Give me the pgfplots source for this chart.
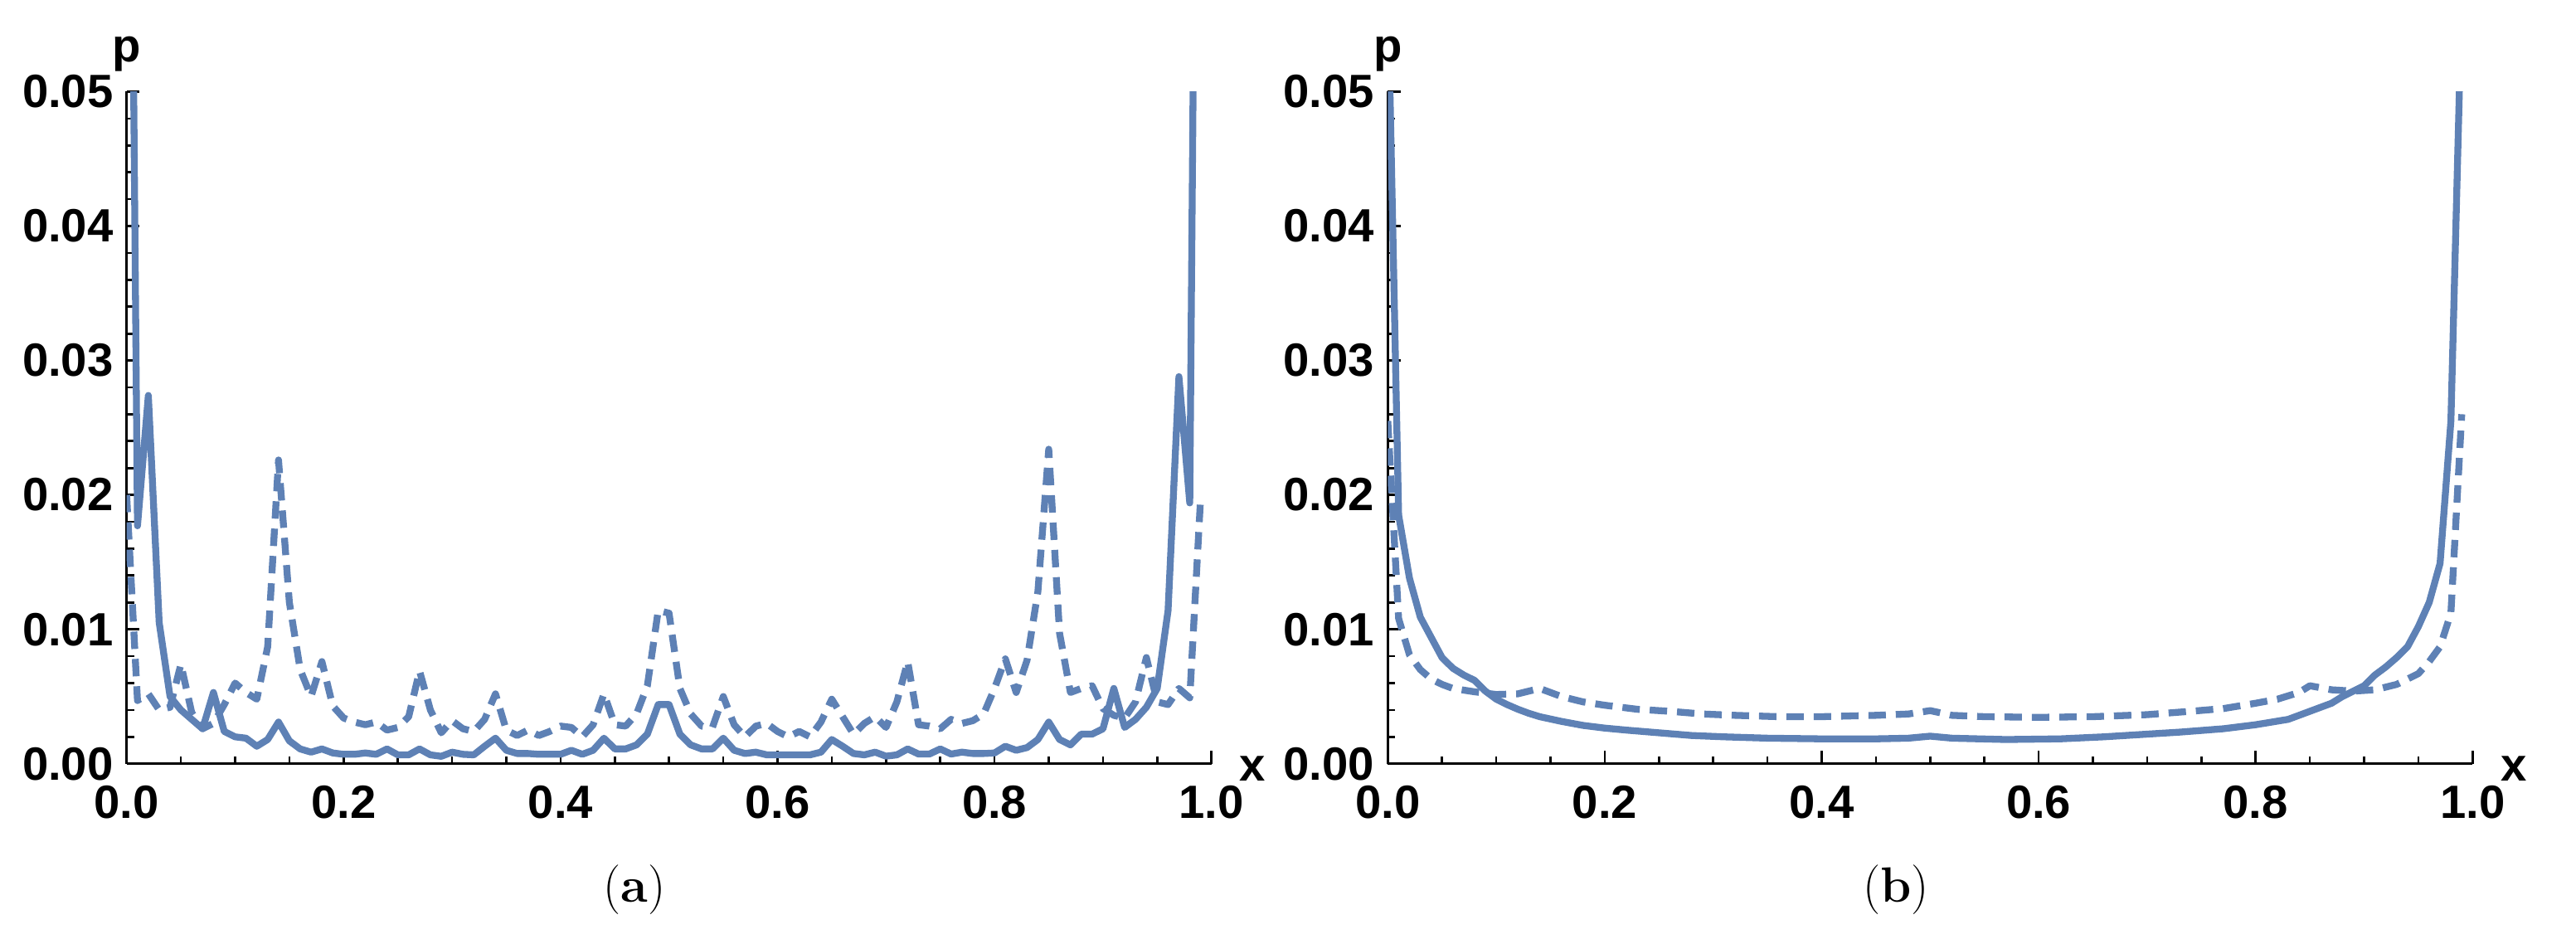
\documentclass[border=0pt]{standalone}
\usepackage{fontspec}
\setsansfont{Liberation Sans}
\usepackage{pgfplots}
\pgfplotsset{compat=1.18}
\definecolor{mma}{RGB}{94,129,181}

\pgfplotsset{
  panel/.style={
    scale only axis, width=13.08cm, height=8.102cm,
    xmin=0, xmax=1, ymin=0, ymax=0.05,
    axis lines*=left,
    axis line style={line width=0.033cm},
    tick align=inside,
    major tick length=0.155cm, minor tick length=0.09cm,
    every tick/.style={black, line width=0.027cm},
    xtick={0,0.2,0.4,0.6,0.8,1},
    ytick={0,0.01,0.02,0.03,0.04,0.05},
    minor x tick num=3, minor y tick num=4,
    scaled y ticks=false,
    /pgf/number format/assume math mode=true,
    tick label style={font=\sffamily\bfseries\fontsize{16}{18}\selectfont, inner sep=0pt},
    xticklabel style={yshift=-0.26cm, /pgf/number format/fixed,
      /pgf/number format/fixed zerofill, /pgf/number format/precision=1},
    yticklabel style={xshift=-0.155cm, /pgf/number format/fixed,
      /pgf/number format/fixed zerofill, /pgf/number format/precision=2},
    clip=true,
  },
  full/.style={mma, line width=0.083cm, line join=round},
  dash/.style={mma, line width=0.083cm, line join=round, dash pattern=on 0.21cm off 0.12cm},
}

\begin{document}
\begin{tikzpicture}
\useasboundingbox (0,0) rectangle (31.06,11.32);

% (a)
\begin{axis}[panel, at={(1.527cm,2.113cm)}, anchor=south west]
\addplot[full] coordinates {
(0.00,0.110)(0.01,0.0177)(0.02,0.0274)(0.03,0.0105)(0.04,0.0050)(0.05,0.0040)(0.06,0.0033)(0.07,0.0026)(0.08,0.0053)(0.09,0.0024)
(0.10,0.0020)(0.11,0.0019)(0.12,0.0013)(0.13,0.0018)(0.14,0.0031)(0.15,0.0017)(0.16,0.0011)(0.17,0.00086)(0.18,0.0011)(0.19,0.0008)
(0.20,0.0007)(0.21,0.0007)(0.22,0.0008)(0.23,0.0007)(0.24,0.0011)(0.25,0.00066)(0.26,0.00066)(0.27,0.0011)(0.28,0.00066)(0.29,0.00055)
(0.30,0.00086)(0.31,0.0007)(0.32,0.00066)(0.33,0.0013)(0.34,0.0019)(0.35,0.0010)(0.36,0.00076)(0.37,0.00076)(0.38,0.0007)(0.39,0.0007)
(0.40,0.0007)(0.41,0.0010)(0.42,0.0007)(0.43,0.0010)(0.44,0.0019)(0.45,0.0011)(0.46,0.0011)(0.47,0.0014)(0.48,0.0022)(0.49,0.0044)
(0.50,0.0044)(0.51,0.0022)(0.52,0.0014)(0.53,0.0011)(0.54,0.0011)(0.55,0.0019)(0.56,0.0010)(0.57,0.00076)(0.58,0.00086)(0.59,0.00066)
(0.60,0.00066)(0.61,0.00066)(0.62,0.00066)(0.63,0.00066)(0.64,0.00086)(0.65,0.0018)(0.66,0.0013)(0.67,0.00076)(0.68,0.00066)(0.69,0.00086)
(0.70,0.00056)(0.71,0.00066)(0.72,0.0011)(0.73,0.00072)(0.74,0.00072)(0.75,0.0011)(0.76,0.00072)(0.77,0.00086)(0.78,0.00076)(0.79,0.00076)
(0.80,0.0008)(0.81,0.0013)(0.82,0.0010)(0.83,0.0012)(0.84,0.0018)(0.85,0.0031)(0.86,0.0018)(0.87,0.0014)(0.88,0.0022)(0.89,0.0022)
(0.90,0.0026)(0.91,0.0056)(0.92,0.0027)(0.93,0.0033)(0.94,0.0042)(0.95,0.0056)(0.96,0.0114)(0.97,0.0288)(0.98,0.0194)(0.99,0.120)
};
\addplot[dash] coordinates {
(0.00,0.0200)(0.01,0.0047)(0.02,0.0052)(0.03,0.0040)(0.04,0.0042)(0.05,0.0074)(0.06,0.0038)(0.07,0.0026)(0.08,0.0030)(0.09,0.0044)
(0.10,0.0060)(0.11,0.0053)(0.12,0.0048)(0.13,0.0087)(0.14,0.0226)(0.15,0.0120)(0.16,0.0070)(0.17,0.0050)(0.18,0.0076)(0.19,0.0043)
(0.20,0.0034)(0.21,0.0031)(0.22,0.0029)(0.23,0.0031)(0.24,0.0025)(0.25,0.0027)(0.26,0.0035)(0.27,0.0069)(0.28,0.0040)(0.29,0.0023)
(0.30,0.0032)(0.31,0.0026)(0.32,0.0024)(0.33,0.0033)(0.34,0.0052)(0.35,0.0025)(0.36,0.0021)(0.37,0.0025)(0.38,0.0021)(0.39,0.0024)
(0.40,0.0028)(0.41,0.0027)(0.42,0.0020)(0.43,0.0029)(0.44,0.0052)(0.45,0.0029)(0.46,0.0028)(0.47,0.0037)(0.48,0.0058)(0.49,0.0114)
(0.50,0.0112)(0.51,0.0056)(0.52,0.0037)(0.53,0.0028)(0.54,0.0027)(0.55,0.0050)(0.56,0.0029)(0.57,0.0020)(0.58,0.0028)(0.59,0.0030)
(0.60,0.0024)(0.61,0.0020)(0.62,0.0024)(0.63,0.0020)(0.64,0.0031)(0.65,0.0048)(0.66,0.0035)(0.67,0.0022)(0.68,0.0030)(0.69,0.0035)
(0.70,0.0027)(0.71,0.0046)(0.72,0.0076)(0.73,0.0029)(0.74,0.0028)(0.75,0.0026)(0.76,0.0033)(0.77,0.0030)(0.78,0.0032)(0.79,0.0037)
(0.80,0.0056)(0.81,0.0078)(0.82,0.0053)(0.83,0.0077)(0.84,0.0128)(0.85,0.0234)(0.86,0.0097)(0.87,0.0053)(0.88,0.0056)(0.89,0.0058)
(0.90,0.0041)(0.91,0.0036)(0.92,0.0034)(0.93,0.0046)(0.94,0.0079)(0.95,0.0046)(0.96,0.0044)(0.97,0.0056)(0.98,0.0049)(0.99,0.0198)
};
\end{axis}

% (b)
\begin{axis}[panel, at={(16.733cm,2.113cm)}, anchor=south west]
\addplot[full] coordinates {
(0.00,0.058)(0.01,0.0185)(0.02,0.0138)(0.03,0.0109)(0.04,0.0094)(0.05,0.0079)(0.06,0.0071)(0.07,0.0066)(0.08,0.0062)(0.09,0.0054)
(0.10,0.0048)(0.11,0.0044)(0.12,0.00405)(0.13,0.00375)(0.14,0.0035)(0.16,0.00315)(0.18,0.00285)(0.20,0.00265)(0.22,0.0025)(0.25,0.0023)
(0.28,0.0021)(0.31,0.0020)(0.35,0.0019)(0.40,0.00185)(0.45,0.00185)(0.48,0.0019)(0.50,0.00205)(0.52,0.0019)(0.57,0.0018)(0.62,0.00185)
(0.66,0.0020)(0.70,0.0022)(0.73,0.00235)(0.77,0.0026)(0.80,0.0029)(0.83,0.0033)(0.85,0.0039)(0.87,0.0045)(0.88,0.0050)(0.89,0.0054)
(0.90,0.0058)(0.91,0.0066)(0.92,0.0072)(0.93,0.0079)(0.94,0.0087)(0.95,0.0102)(0.96,0.0120)(0.97,0.0149)(0.98,0.0255)(0.99,0.057)
};
\addplot[dash] coordinates {
(0.00,0.0255)(0.01,0.0108)(0.02,0.0081)(0.03,0.0070)(0.04,0.0063)(0.05,0.0059)(0.06,0.0056)(0.08,0.00535)(0.10,0.00515)(0.12,0.0052)
(0.14,0.0056)(0.16,0.0050)(0.18,0.0046)(0.20,0.00435)(0.23,0.00405)(0.26,0.0039)(0.29,0.0037)(0.32,0.0036)(0.36,0.0035)(0.40,0.0035)
(0.45,0.0036)(0.48,0.0037)(0.50,0.00395)(0.52,0.0036)(0.55,0.0035)(0.60,0.00345)(0.65,0.0035)(0.70,0.00365)(0.74,0.0039)(0.77,0.0041)
(0.80,0.0045)(0.82,0.0048)(0.84,0.0053)(0.85,0.0058)(0.87,0.0055)(0.89,0.0054)(0.91,0.0055)(0.93,0.0059)(0.95,0.0067)(0.96,0.0076)
(0.97,0.0087)(0.98,0.0112)(0.99,0.0260)
};
\end{axis}

% axis letters and captions
\begin{scope}[font=\sffamily\bfseries\fontsize{16}{18}\selectfont]
\node[anchor=base, inner sep=0pt] at (1.527,10.57) {p};
\node[anchor=base, inner sep=0pt] at (16.733,10.57) {p};
\node[inner sep=0pt] at (15.10,2.05) {x};
\node[inner sep=0pt] at (30.31,2.05) {x};
\end{scope}
\node[font=\fontsize{17}{20}\selectfont] at (7.65,0.59) {(\textbf{a})};
\node[font=\fontsize{17}{20}\selectfont] at (22.86,0.59) {(\textbf{b})};
\end{tikzpicture}
\end{document}
